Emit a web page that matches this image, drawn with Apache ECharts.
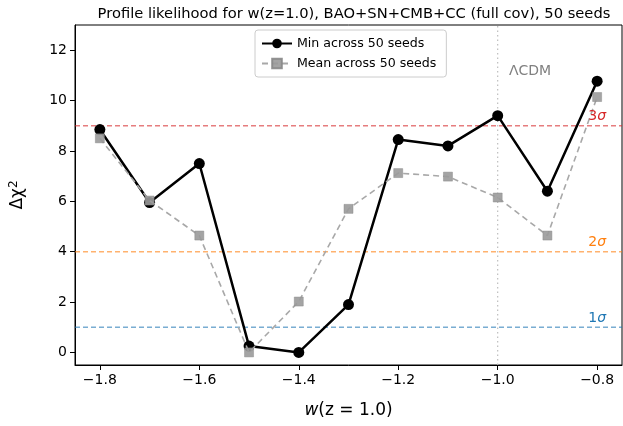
<!DOCTYPE html>
<html>
<head>
<meta charset="utf-8">
<script src="https://cdn.jsdelivr.net/npm/echarts@6/dist/echarts.min.js"></script>
<style>
  html, body { margin: 0; padding: 0; background: #fff; }
  #chartArea { width: 623px; height: 426px; }
</style>
</head>
<body>
<div id="chartArea"></div>
<script>
var wValues = [-1.8, -1.7, -1.6, -1.5, -1.4, -1.3, -1.2, -1.1, -1.0, -0.9, -0.8];
var minChi2 = [8.85, 5.95, 7.5, 0.25, 0.0, 1.9, 8.45, 8.2, 9.4, 6.4, 10.77];
var meanChi2 = [8.5, 6.03, 4.64, 0.0, 2.02, 5.7, 7.12, 6.98, 6.15, 4.64, 10.14];
var xTicks = [-1.8, -1.6, -1.4, -1.2, -1.0, -0.8];
var yTicks = [0, 2, 4, 6, 8, 10, 12];
var sigmaLevels = [1, 4, 9];
var sigmaNums = ['1', '2', '3'];
var sigmaColors = ['#1f77b4', '#ff7f0e', '#d62728'];
var lcdmW = -1.0;

var X_MIN = -1.85, X_MAX = -0.75, Y_MIN = -0.5, Y_MAX = 13;
var FONT = 'DejaVu Sans';

function pairs(ys) {
    return wValues.map(function(x, i) { return [x, ys[i]]; });
}

var myChart = echarts.init(document.getElementById('chartArea'));

// reference lines as plain line series spanning the axis range
var sigmaSeries = sigmaLevels.map(function(y, i) {
    return {
        name: 'sigma' + i,
        type: 'line',
        data: [[X_MIN, y], [X_MAX, y]],
        z: 1,
        silent: true,
        symbol: 'none',
        color: sigmaColors[i],
        lineStyle: { color: sigmaColors[i], type: [5, 3], width: 1.5, opacity: 0.6 },
        markPoint: {
            silent: true,
            symbol: 'circle',
            symbolSize: 0,
            data: [{
                coord: [-0.8, y],
                label: {
                    show: true,
                    position: 'top',
                    distance: 2,
                    formatter: sigmaNums[i] + '{s|σ}',
                    color: sigmaColors[i],
                    fontFamily: FONT,
                    fontSize: 14,
                    rich: { s: { fontStyle: 'italic', color: sigmaColors[i], fontFamily: FONT, fontSize: 14 } }
                }
            }]
        }
    };
});

var lcdmSeries = {
    name: 'lcdm',
    type: 'line',
    data: [[lcdmW, Y_MIN], [lcdmW, Y_MAX]],
    z: 1,
    silent: true,
    symbol: 'none',
    color: '#bdbdbd',
    lineStyle: { color: '#bdbdbd', type: [1.5, 3], width: 1.2 },
    markPoint: {
        silent: true,
        symbol: 'circle',
        symbolSize: 0,
        data: [{
            coord: [-0.935, 11.15],
            label: {
                show: true, position: 'inside', formatter: 'ΛCDM',
                color: '#808080', fontFamily: FONT, fontSize: 14
            }
        }]
    }
};

var option = {
    animation: false,
    backgroundColor: '#fff',
    title: {
        text: 'Profile likelihood for w(z=1.0), BAO+SN+CMB+CC (full cov), 50 seeds',
        left: 349,
        textAlign: 'center',
        top: 2,
        textStyle: { fontFamily: FONT, fontSize: 14.7, fontWeight: 'normal', color: '#000' }
    },
    legend: {
        orient: 'vertical',
        left: 255,
        top: 30,
        itemWidth: 30,
        itemHeight: 12,
        itemGap: 7,
        padding: [7, 10, 7, 6],
        borderColor: '#cccccc',
        borderWidth: 1,
        borderRadius: 3,
        backgroundColor: '#fff',
        textStyle: { fontFamily: FONT, fontSize: 12.6, color: '#000' },
        data: ['Min across 50 seeds', 'Mean across 50 seeds']
    },
    grid: {
        left: 75, right: 1, top: 25, bottom: 61,
        show: true, borderColor: '#000', borderWidth: 1
    },
    xAxis: {
        type: 'value',
        min: X_MIN,
        max: X_MAX,
        name: '{i|w}(z = 1.0)',
        nameLocation: 'middle',
        nameGap: 37,
        nameTextStyle: {
            fontFamily: FONT, fontSize: 17, color: '#000',
            rich: { i: { fontStyle: 'italic', fontFamily: FONT, fontSize: 17 } }
        },
        axisLine: { show: true, onZero: false, lineStyle: { color: '#000' } },
        axisTick: { show: true, length: 5, customValues: xTicks, lineStyle: { color: '#000' } },
        axisLabel: {
            customValues: xTicks, fontFamily: FONT, fontSize: 14, color: '#000', margin: 8,
            formatter: function(v) { return (v.toFixed(1)).replace('-', '\u2212'); }
        },
        splitLine: { show: false }
    },
    yAxis: {
        type: 'value',
        min: Y_MIN,
        max: Y_MAX,
        name: 'Δχ{sup|2}',
        nameLocation: 'middle',
        nameGap: 47,
        nameTextStyle: {
            fontFamily: FONT, fontSize: 17, color: '#000',
            rich: { sup: { fontFamily: FONT, fontSize: 12, color: '#000', verticalAlign: 'top', padding: [0, 0, 8, 0] } }
        },
        axisLine: { show: true, onZero: false, lineStyle: { color: '#000' } },
        axisTick: { show: true, length: 5, customValues: yTicks, lineStyle: { color: '#000' } },
        axisLabel: {
            customValues: yTicks, fontFamily: FONT, fontSize: 14, color: '#000', margin: 8
        },
        splitLine: { show: false }
    },
    series: sigmaSeries.concat([lcdmSeries, {
        name: 'Min across 50 seeds',
        type: 'line',
        data: pairs(minChi2),
        z: 3,
        symbol: 'circle',
        symbolSize: 11,
        itemStyle: { color: '#000' },
        lineStyle: { color: '#000', width: 2.5 }
    }, {
        name: 'Mean across 50 seeds',
        type: 'line',
        data: pairs(meanChi2),
        z: 4,
        symbol: 'rect',
        symbolSize: 9,
        itemStyle: { color: '#9a9a9a', opacity: 0.9, borderColor: '#888', borderWidth: 0.5 },
        lineStyle: { color: '#a8a8a8', width: 1.6, type: [6, 4] }
    }])
};
myChart.setOption(option);
</script>
</body>
</html>
